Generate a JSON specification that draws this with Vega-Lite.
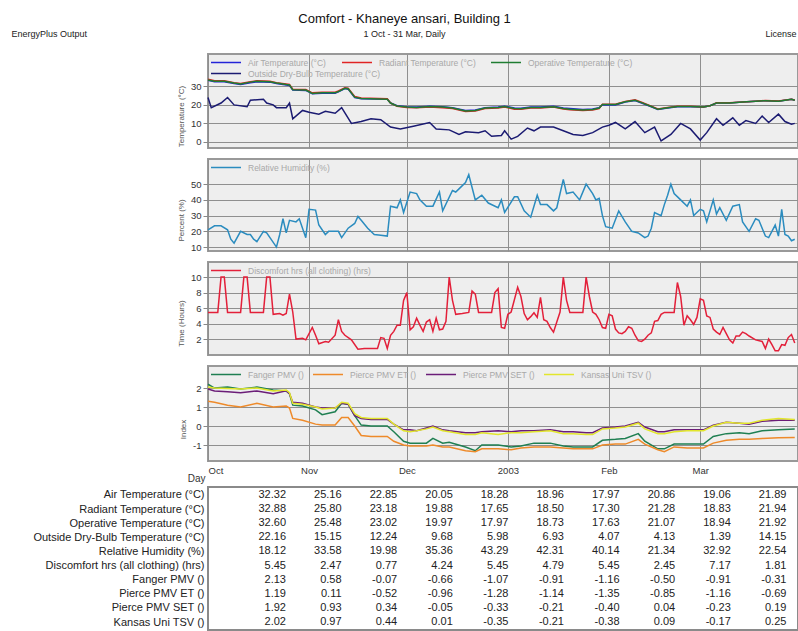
{
  "$schema": "https://vega.github.io/schema/vega-lite/v6.json",
  "padding": {"left": 10, "top": 13, "right": 0, "bottom": 0},
  "title": {"text": "Comfort - Khaneye ansari, Building 1", "subtitle": "1 Oct - 31 Mar, Daily", "anchor": "middle", "frame": "bounds", "fontSize": 13, "fontWeight": "normal", "color": "#111111", "subtitleFontSize": 9, "subtitleColor": "#222222", "subtitlePadding": 4, "offset": -11},
  "bounds": "flush",
  "spacing": 11,
  "resolve": {"scale": {"x": "independent", "y": "independent", "color": "independent", "stroke": "independent"}, "legend": {"color": "independent", "stroke": "independent"}},
  "datasets": {
    "temp": [
      {"d":"2002-10-01","a":33.3,"r":33.8,"o":33.5},
      {"d":"2002-10-03","a":32.5,"r":33.0,"o":32.8},
      {"d":"2002-10-06","a":32.5,"r":33.0,"o":32.8},
      {"d":"2002-10-09","a":31.5,"r":32.0,"o":31.8},
      {"d":"2002-10-11","a":31.0,"r":31.5,"o":31.3},
      {"d":"2002-10-14","a":32.0,"r":32.5,"o":32.3},
      {"d":"2002-10-16","a":32.5,"r":33.0,"o":32.8},
      {"d":"2002-10-20","a":32.3,"r":32.8,"o":32.5},
      {"d":"2002-10-22","a":31.5,"r":32.0,"o":31.8},
      {"d":"2002-10-25","a":30.8,"r":31.3,"o":31.0},
      {"d":"2002-10-26","a":30.5,"r":31.0,"o":30.8},
      {"d":"2002-10-27","a":28.0,"r":28.5,"o":28.2},
      {"d":"2002-10-31","a":27.8,"r":28.3,"o":28.0},
      {"d":"2002-11-02","a":26.0,"r":26.5,"o":26.2},
      {"d":"2002-11-05","a":26.3,"r":26.8,"o":26.5},
      {"d":"2002-11-09","a":26.3,"r":26.8,"o":26.5},
      {"d":"2002-11-10","a":27.0,"r":27.5,"o":27.2},
      {"d":"2002-11-12","a":28.8,"r":29.3,"o":29.0},
      {"d":"2002-11-13","a":28.5,"r":29.0,"o":28.7},
      {"d":"2002-11-15","a":24.0,"r":24.5,"o":24.2},
      {"d":"2002-11-17","a":23.3,"r":23.7,"o":23.5},
      {"d":"2002-11-25","a":23.0,"r":23.3,"o":23.1},
      {"d":"2002-11-26","a":21.0,"r":21.0,"o":21.0},
      {"d":"2002-11-28","a":19.5,"r":19.2,"o":19.4},
      {"d":"2002-12-01","a":19.0,"r":18.6,"o":18.8},
      {"d":"2002-12-04","a":18.8,"r":18.4,"o":18.6},
      {"d":"2002-12-08","a":19.3,"r":18.9,"o":19.1},
      {"d":"2002-12-12","a":19.0,"r":18.5,"o":18.8},
      {"d":"2002-12-15","a":18.5,"r":18.0,"o":18.3},
      {"d":"2002-12-19","a":17.0,"r":16.4,"o":16.7},
      {"d":"2002-12-22","a":17.3,"r":16.7,"o":17.0},
      {"d":"2002-12-25","a":18.5,"r":18.0,"o":18.3},
      {"d":"2002-12-29","a":18.8,"r":18.3,"o":18.6},
      {"d":"2002-12-31","a":19.3,"r":18.8,"o":19.1},
      {"d":"2003-01-03","a":18.3,"r":17.7,"o":18.0},
      {"d":"2003-01-05","a":18.2,"r":17.6,"o":17.9},
      {"d":"2003-01-08","a":18.8,"r":18.3,"o":18.6},
      {"d":"2003-01-11","a":18.8,"r":18.3,"o":18.6},
      {"d":"2003-01-15","a":19.2,"r":18.8,"o":19.0},
      {"d":"2003-01-18","a":18.3,"r":17.8,"o":18.1},
      {"d":"2003-01-20","a":18.0,"r":17.4,"o":17.7},
      {"d":"2003-01-24","a":17.5,"r":16.9,"o":17.2},
      {"d":"2003-01-27","a":17.8,"r":17.2,"o":17.5},
      {"d":"2003-01-29","a":18.5,"r":18.0,"o":18.3},
      {"d":"2003-01-30","a":20.0,"r":20.4,"o":20.2},
      {"d":"2003-02-03","a":20.0,"r":20.4,"o":20.2},
      {"d":"2003-02-06","a":21.5,"r":21.9,"o":21.7},
      {"d":"2003-02-09","a":22.3,"r":22.7,"o":22.5},
      {"d":"2003-02-11","a":21.0,"r":21.4,"o":21.2},
      {"d":"2003-02-14","a":19.0,"r":19.3,"o":19.1},
      {"d":"2003-02-16","a":17.5,"r":17.8,"o":17.6},
      {"d":"2003-02-19","a":18.3,"r":18.6,"o":18.4},
      {"d":"2003-02-22","a":19.0,"r":19.3,"o":19.1},
      {"d":"2003-02-26","a":19.0,"r":19.2,"o":19.1},
      {"d":"2003-03-02","a":18.8,"r":18.8,"o":18.8},
      {"d":"2003-03-04","a":19.5,"r":19.5,"o":19.5},
      {"d":"2003-03-06","a":21.0,"r":21.1,"o":21.0},
      {"d":"2003-03-10","a":21.0,"r":21.1,"o":21.0},
      {"d":"2003-03-14","a":21.5,"r":21.6,"o":21.5},
      {"d":"2003-03-18","a":22.0,"r":22.0,"o":22.0},
      {"d":"2003-03-21","a":22.3,"r":22.4,"o":22.3},
      {"d":"2003-03-25","a":22.0,"r":22.1,"o":22.0},
      {"d":"2003-03-29","a":23.0,"r":23.0,"o":23.0},
      {"d":"2003-03-30","a":22.5,"r":22.6,"o":22.5}
    ],
    "outside": [
      {"d":"2002-10-01","v":24},{"d":"2002-10-02","v":18.5},{"d":"2002-10-05","v":21},{"d":"2002-10-07","v":24},
      {"d":"2002-10-09","v":20},{"d":"2002-10-13","v":19},{"d":"2002-10-14","v":22.5},{"d":"2002-10-18","v":23},
      {"d":"2002-10-19","v":21},{"d":"2002-10-21","v":20},{"d":"2002-10-22","v":18.5},{"d":"2002-10-25","v":18.5},
      {"d":"2002-10-26","v":21},{"d":"2002-10-27","v":12.5},{"d":"2002-10-30","v":17},{"d":"2002-11-01","v":16},
      {"d":"2002-11-04","v":15},{"d":"2002-11-06","v":16.5},{"d":"2002-11-09","v":15.5},{"d":"2002-11-11","v":18.5},
      {"d":"2002-11-14","v":10},{"d":"2002-11-17","v":11},{"d":"2002-11-20","v":12.5},{"d":"2002-11-23","v":12},
      {"d":"2002-11-26","v":8},{"d":"2002-11-29","v":7},{"d":"2002-12-03","v":8.5},{"d":"2002-12-08","v":10.5},
      {"d":"2002-12-10","v":7},{"d":"2002-12-14","v":6.5},{"d":"2002-12-17","v":4},{"d":"2002-12-19","v":5.5},
      {"d":"2002-12-23","v":5},{"d":"2002-12-25","v":6},{"d":"2002-12-27","v":3},{"d":"2002-12-30","v":3.5},
      {"d":"2002-12-31","v":6},{"d":"2003-01-02","v":1.5},{"d":"2003-01-04","v":3},{"d":"2003-01-07","v":7.5},
      {"d":"2003-01-09","v":6},{"d":"2003-01-11","v":8},{"d":"2003-01-15","v":8},{"d":"2003-01-18","v":6},
      {"d":"2003-01-21","v":4},{"d":"2003-01-24","v":3.5},{"d":"2003-01-27","v":5},{"d":"2003-01-30","v":8},
      {"d":"2003-02-01","v":9},{"d":"2003-02-03","v":10.5},{"d":"2003-02-06","v":7},{"d":"2003-02-09","v":11},
      {"d":"2003-02-12","v":5},{"d":"2003-02-15","v":8},{"d":"2003-02-17","v":0.5},{"d":"2003-02-20","v":4},
      {"d":"2003-02-23","v":10},{"d":"2003-02-26","v":7},{"d":"2003-03-01","v":1},{"d":"2003-03-03","v":5},
      {"d":"2003-03-06","v":12.5},{"d":"2003-03-08","v":9},{"d":"2003-03-11","v":13},{"d":"2003-03-13","v":9},
      {"d":"2003-03-15","v":11.5},{"d":"2003-03-18","v":10},{"d":"2003-03-20","v":14},{"d":"2003-03-22","v":10.5},
      {"d":"2003-03-25","v":15},{"d":"2003-03-27","v":11},{"d":"2003-03-29","v":9.5},{"d":"2003-03-30","v":10}
    ],
    "rh": [
      {"d":"2002-10-01","v":21},{"d":"2002-10-03","v":23.5},{"d":"2002-10-05","v":23.5},{"d":"2002-10-07","v":21},
      {"d":"2002-10-08","v":15},{"d":"2002-10-09","v":12.5},{"d":"2002-10-11","v":20},{"d":"2002-10-13","v":18},
      {"d":"2002-10-14","v":18},{"d":"2002-10-15","v":15},{"d":"2002-10-16","v":13.5},{"d":"2002-10-18","v":20},
      {"d":"2002-10-19","v":19},{"d":"2002-10-22","v":10},{"d":"2002-10-23","v":18},{"d":"2002-10-24","v":28},
      {"d":"2002-10-25","v":19},{"d":"2002-10-26","v":27},{"d":"2002-10-28","v":26},{"d":"2002-10-29","v":28},
      {"d":"2002-10-31","v":16},{"d":"2002-11-01","v":34},{"d":"2002-11-03","v":33.5},{"d":"2002-11-04","v":24},
      {"d":"2002-11-06","v":18},{"d":"2002-11-07","v":20},{"d":"2002-11-10","v":20},{"d":"2002-11-11","v":16},
      {"d":"2002-11-13","v":22},{"d":"2002-11-15","v":25},{"d":"2002-11-16","v":29.5},{"d":"2002-11-17","v":27},
      {"d":"2002-11-19","v":22},{"d":"2002-11-21","v":18},{"d":"2002-11-23","v":17.5},{"d":"2002-11-25","v":17},
      {"d":"2002-11-26","v":36},{"d":"2002-11-28","v":35},{"d":"2002-11-29","v":40},{"d":"2002-11-30","v":32},
      {"d":"2002-12-02","v":45},{"d":"2002-12-04","v":44},{"d":"2002-12-05","v":40},{"d":"2002-12-07","v":36},
      {"d":"2002-12-09","v":36},{"d":"2002-12-11","v":45},{"d":"2002-12-12","v":33},{"d":"2002-12-15","v":46},
      {"d":"2002-12-16","v":45},{"d":"2002-12-17","v":47},{"d":"2002-12-19","v":51},{"d":"2002-12-20","v":56},
      {"d":"2002-12-22","v":40},{"d":"2002-12-24","v":43},{"d":"2002-12-26","v":38},{"d":"2002-12-29","v":35},
      {"d":"2002-12-30","v":40},{"d":"2002-12-31","v":32},{"d":"2003-01-03","v":42},{"d":"2003-01-04","v":42},
      {"d":"2003-01-06","v":33},{"d":"2003-01-08","v":29},{"d":"2003-01-10","v":43},{"d":"2003-01-11","v":37},
      {"d":"2003-01-13","v":37},{"d":"2003-01-15","v":33},{"d":"2003-01-16","v":35},{"d":"2003-01-18","v":53},
      {"d":"2003-01-19","v":44},{"d":"2003-01-21","v":45},{"d":"2003-01-23","v":40},{"d":"2003-01-25","v":50},
      {"d":"2003-01-27","v":44},{"d":"2003-01-28","v":40},{"d":"2003-01-29","v":41},{"d":"2003-01-30","v":30},
      {"d":"2003-01-31","v":23},{"d":"2003-02-02","v":22},{"d":"2003-02-04","v":33},{"d":"2003-02-06","v":26},
      {"d":"2003-02-08","v":20},{"d":"2003-02-10","v":19},{"d":"2003-02-12","v":16},{"d":"2003-02-13","v":17},
      {"d":"2003-02-14","v":22},{"d":"2003-02-15","v":32},{"d":"2003-02-17","v":30},{"d":"2003-02-18","v":37},
      {"d":"2003-02-19","v":43},{"d":"2003-02-20","v":50},{"d":"2003-02-21","v":44},{"d":"2003-02-23","v":40},
      {"d":"2003-02-25","v":36},{"d":"2003-02-26","v":40},{"d":"2003-02-27","v":30},{"d":"2003-03-01","v":34},
      {"d":"2003-03-02","v":33},{"d":"2003-03-03","v":26},{"d":"2003-03-05","v":40},{"d":"2003-03-06","v":31},
      {"d":"2003-03-07","v":35},{"d":"2003-03-09","v":27},{"d":"2003-03-11","v":36},{"d":"2003-03-13","v":37},
      {"d":"2003-03-14","v":26},{"d":"2003-03-16","v":20},{"d":"2003-03-18","v":28},{"d":"2003-03-19","v":27},
      {"d":"2003-03-21","v":17},{"d":"2003-03-22","v":16},{"d":"2003-03-23","v":20},{"d":"2003-03-24","v":24},
      {"d":"2003-03-25","v":17},{"d":"2003-03-26","v":34},{"d":"2003-03-27","v":18},{"d":"2003-03-28","v":17},
      {"d":"2003-03-29","v":14},{"d":"2003-03-30","v":15}
    ],
    "disc": [
      {"d":"2002-10-01","v":5.45},{"d":"2002-10-04","v":5.45},{"d":"2002-10-05","v":10},{"d":"2002-10-06","v":10},
      {"d":"2002-10-07","v":5.45},{"d":"2002-10-11","v":5.45},{"d":"2002-10-12","v":10},{"d":"2002-10-13","v":10},
      {"d":"2002-10-14","v":5.45},{"d":"2002-10-18","v":5.45},{"d":"2002-10-19","v":10},{"d":"2002-10-20","v":10},
      {"d":"2002-10-21","v":5.2},{"d":"2002-10-23","v":5.3},{"d":"2002-10-24","v":5.1},{"d":"2002-10-25","v":5.3},
      {"d":"2002-10-26","v":7.8},{"d":"2002-10-27","v":5.5},{"d":"2002-10-28","v":2},{"d":"2002-10-30","v":2.1},
      {"d":"2002-10-31","v":1.9},{"d":"2002-11-02","v":3.5},{"d":"2002-11-03","v":2.5},{"d":"2002-11-04","v":1.4},
      {"d":"2002-11-06","v":1.7},{"d":"2002-11-07","v":1.6},{"d":"2002-11-09","v":2.5},{"d":"2002-11-10","v":4.5},
      {"d":"2002-11-11","v":3},{"d":"2002-11-12","v":2.5},{"d":"2002-11-14","v":1.9},{"d":"2002-11-16","v":0.7},
      {"d":"2002-11-18","v":0.8},{"d":"2002-11-20","v":0.8},{"d":"2002-11-22","v":0.8},{"d":"2002-11-23","v":2.2},
      {"d":"2002-11-24","v":2.1},{"d":"2002-11-25","v":0.8},{"d":"2002-11-26","v":2.5},{"d":"2002-11-27","v":3},
      {"d":"2002-11-28","v":3.8},{"d":"2002-11-29","v":3.8},{"d":"2002-11-30","v":7},{"d":"2002-12-01","v":8},
      {"d":"2002-12-02","v":3.2},{"d":"2002-12-03","v":3.6},{"d":"2002-12-04","v":4.7},{"d":"2002-12-05","v":3.8},
      {"d":"2002-12-06","v":3},{"d":"2002-12-07","v":4.2},{"d":"2002-12-08","v":4.5},{"d":"2002-12-09","v":3},
      {"d":"2002-12-10","v":4.7},{"d":"2002-12-11","v":3.2},{"d":"2002-12-12","v":3.3},{"d":"2002-12-13","v":4.3},
      {"d":"2002-12-14","v":10},{"d":"2002-12-15","v":7},{"d":"2002-12-16","v":5.2},{"d":"2002-12-18","v":5.3},
      {"d":"2002-12-20","v":5.45},{"d":"2002-12-21","v":8.2},{"d":"2002-12-22","v":7.8},{"d":"2002-12-23","v":5.45},
      {"d":"2002-12-27","v":5.45},{"d":"2002-12-28","v":8},{"d":"2002-12-29","v":8.5},{"d":"2002-12-30","v":3.5},
      {"d":"2002-12-31","v":3.4},{"d":"2003-01-01","v":5.2},{"d":"2003-01-02","v":5.5},{"d":"2003-01-04","v":8.7},
      {"d":"2003-01-05","v":7.5},{"d":"2003-01-06","v":5.3},{"d":"2003-01-07","v":4.5},{"d":"2003-01-08","v":4.9},
      {"d":"2003-01-09","v":5.4},{"d":"2003-01-10","v":4.8},{"d":"2003-01-11","v":7.4},{"d":"2003-01-12","v":4.5},
      {"d":"2003-01-13","v":4.3},{"d":"2003-01-14","v":3.5},{"d":"2003-01-15","v":2.9},{"d":"2003-01-16","v":4.2},
      {"d":"2003-01-17","v":5.5},{"d":"2003-01-18","v":10},{"d":"2003-01-19","v":7},{"d":"2003-01-20","v":5.45},
      {"d":"2003-01-24","v":5.45},{"d":"2003-01-25","v":10},{"d":"2003-01-26","v":7.5},{"d":"2003-01-27","v":5.5},
      {"d":"2003-01-28","v":5.2},{"d":"2003-01-29","v":4.5},{"d":"2003-01-30","v":3.5},{"d":"2003-01-31","v":3.4},
      {"d":"2003-02-01","v":5.2},{"d":"2003-02-02","v":5},{"d":"2003-02-03","v":3.3},{"d":"2003-02-04","v":2.8},
      {"d":"2003-02-05","v":2.7},{"d":"2003-02-06","v":3},{"d":"2003-02-07","v":3.6},{"d":"2003-02-08","v":3.4},
      {"d":"2003-02-09","v":2.5},{"d":"2003-02-10","v":1.8},{"d":"2003-02-11","v":1.7},{"d":"2003-02-12","v":2},
      {"d":"2003-02-13","v":2.5},{"d":"2003-02-14","v":2.8},{"d":"2003-02-15","v":4.3},{"d":"2003-02-16","v":4.4},
      {"d":"2003-02-17","v":5.2},{"d":"2003-02-18","v":5.45},{"d":"2003-02-21","v":5.45},{"d":"2003-02-22","v":9.3},
      {"d":"2003-02-23","v":7.5},{"d":"2003-02-24","v":3.8},{"d":"2003-02-25","v":5},{"d":"2003-02-26","v":4.5},
      {"d":"2003-02-27","v":3.9},{"d":"2003-02-28","v":4.8},{"d":"2003-03-01","v":7.2},{"d":"2003-03-02","v":7},
      {"d":"2003-03-03","v":5},{"d":"2003-03-04","v":4.8},{"d":"2003-03-05","v":3.3},{"d":"2003-03-06","v":2.9},
      {"d":"2003-03-07","v":2.6},{"d":"2003-03-08","v":3.5},{"d":"2003-03-09","v":2.7},{"d":"2003-03-10","v":1.9},
      {"d":"2003-03-11","v":1.5},{"d":"2003-03-12","v":2.4},{"d":"2003-03-13","v":2.4},{"d":"2003-03-14","v":2.9},
      {"d":"2003-03-15","v":2.7},{"d":"2003-03-16","v":2.4},{"d":"2003-03-18","v":1.9},{"d":"2003-03-20","v":1.7},
      {"d":"2003-03-21","v":0.8},{"d":"2003-03-22","v":2},{"d":"2003-03-23","v":1.3},{"d":"2003-03-24","v":0.5},
      {"d":"2003-03-25","v":0.5},{"d":"2003-03-26","v":1.3},{"d":"2003-03-27","v":1.2},{"d":"2003-03-28","v":2.2},
      {"d":"2003-03-29","v":2.6},{"d":"2003-03-30","v":1.5}
    ],
    "pmv": [
      {"d":"2002-10-01","f":2.2,"e":1.3,"s":1.95,"k":2.05},
      {"d":"2002-10-03","f":2.0,"e":1.25,"s":1.85,"k":2.0},
      {"d":"2002-10-07","f":2.05,"e":1.1,"s":1.8,"k":1.97},
      {"d":"2002-10-11","f":1.95,"e":1.0,"s":1.75,"k":1.95},
      {"d":"2002-10-16","f":2.05,"e":1.2,"s":1.85,"k":2.0},
      {"d":"2002-10-21","f":1.9,"e":1.0,"s":1.7,"k":1.85},
      {"d":"2002-10-25","f":1.85,"e":1.05,"s":1.85,"k":1.9},
      {"d":"2002-10-26","f":1.7,"e":0.95,"s":1.7,"k":1.75},
      {"d":"2002-10-27","f":1.1,"e":0.4,"s":1.25,"k":1.2},
      {"d":"2002-10-30","f":1.05,"e":0.3,"s":1.2,"k":1.15},
      {"d":"2002-11-03","f":0.85,"e":0.1,"s":1.0,"k":1.0},
      {"d":"2002-11-05","f":0.6,"e":0.05,"s":0.95,"k":0.9},
      {"d":"2002-11-09","f":0.75,"e":0.05,"s":0.95,"k":0.95},
      {"d":"2002-11-11","f":1.2,"e":0.45,"s":1.2,"k":1.25},
      {"d":"2002-11-13","f":1.15,"e":0.45,"s":1.15,"k":1.2},
      {"d":"2002-11-15","f":0.55,"e":0.0,"s":0.55,"k":0.65},
      {"d":"2002-11-17","f":0.05,"e":-0.5,"s":0.4,"k":0.45},
      {"d":"2002-11-20","f":0.0,"e":-0.55,"s":0.35,"k":0.4},
      {"d":"2002-11-25","f":0.0,"e":-0.55,"s":0.35,"k":0.4},
      {"d":"2002-11-27","f":-0.3,"e":-0.8,"s":0.1,"k":0.1},
      {"d":"2002-11-30","f":-0.8,"e":-1.0,"s":-0.2,"k":-0.25},
      {"d":"2002-12-02","f":-0.9,"e":-1.05,"s":-0.2,"k":-0.3},
      {"d":"2002-12-04","f":-0.9,"e":-1.05,"s":-0.25,"k":-0.25},
      {"d":"2002-12-07","f":-0.9,"e":-1.05,"s":-0.1,"k":-0.15},
      {"d":"2002-12-09","f":-0.65,"e":-1.0,"s":0.0,"k":-0.05},
      {"d":"2002-12-12","f":-0.9,"e":-1.1,"s":-0.2,"k":-0.25},
      {"d":"2002-12-14","f":-0.85,"e":-1.1,"s":-0.25,"k":-0.3},
      {"d":"2002-12-19","f":-1.1,"e":-1.3,"s":-0.35,"k":-0.45},
      {"d":"2002-12-22","f":-1.3,"e":-1.35,"s":-0.35,"k":-0.45},
      {"d":"2002-12-24","f":-1.0,"e":-1.2,"s":-0.3,"k":-0.35},
      {"d":"2002-12-29","f":-1.0,"e":-1.2,"s":-0.25,"k":-0.45},
      {"d":"2003-01-02","f":-1.1,"e":-1.25,"s":-0.3,"k":-0.35},
      {"d":"2003-01-05","f":-1.05,"e":-1.15,"s":-0.25,"k":-0.35},
      {"d":"2003-01-09","f":-0.9,"e":-1.1,"s":-0.25,"k":-0.3},
      {"d":"2003-01-14","f":-0.9,"e":-1.1,"s":-0.2,"k":-0.25},
      {"d":"2003-01-18","f":-1.05,"e":-1.15,"s":-0.3,"k":-0.4},
      {"d":"2003-01-21","f":-1.1,"e":-1.2,"s":-0.3,"k":-0.4},
      {"d":"2003-01-25","f":-1.1,"e":-1.2,"s":-0.35,"k":-0.45},
      {"d":"2003-01-27","f":-1.1,"e":-1.2,"s":-0.35,"k":-0.45},
      {"d":"2003-01-30","f":-0.75,"e":-1.0,"s":-0.1,"k":-0.15},
      {"d":"2003-02-03","f":-0.7,"e":-0.95,"s":-0.05,"k":-0.1},
      {"d":"2003-02-06","f":-0.65,"e":-0.95,"s":0.0,"k":-0.05},
      {"d":"2003-02-10","f":-0.4,"e":-0.7,"s":0.2,"k":0.15},
      {"d":"2003-02-12","f":-0.8,"e":-0.95,"s":-0.05,"k":-0.15},
      {"d":"2003-02-16","f":-1.2,"e":-1.25,"s":-0.3,"k":-0.4},
      {"d":"2003-02-18","f":-1.2,"e":-1.35,"s":-0.3,"k":-0.4},
      {"d":"2003-02-21","f":-0.95,"e":-1.1,"s":-0.2,"k":-0.3},
      {"d":"2003-02-25","f":-0.95,"e":-1.15,"s":-0.2,"k":-0.25},
      {"d":"2003-03-02","f":-0.95,"e":-1.15,"s":-0.2,"k":-0.25},
      {"d":"2003-03-05","f":-0.55,"e":-0.9,"s":0.05,"k":0.0},
      {"d":"2003-03-09","f":-0.4,"e":-0.75,"s":0.2,"k":0.2},
      {"d":"2003-03-13","f":-0.35,"e":-0.7,"s":0.15,"k":0.15},
      {"d":"2003-03-16","f":-0.4,"e":-0.7,"s":0.1,"k":0.15},
      {"d":"2003-03-20","f":-0.25,"e":-0.65,"s":0.25,"k":0.3},
      {"d":"2003-03-25","f":-0.2,"e":-0.62,"s":0.3,"k":0.4},
      {"d":"2003-03-30","f":-0.15,"e":-0.6,"s":0.3,"k":0.35}
    ],
    "table": [
      {"r":"Air Temperature (°C)","c":[1,2,3,4,5,6,7,8,9,10],"v":["32.32","25.16","22.85","20.05","18.28","18.96","17.97","20.86","19.06","21.89"]},
      {"r":"Radiant Temperature (°C)","c":[1,2,3,4,5,6,7,8,9,10],"v":["32.88","25.80","23.18","19.88","17.65","18.50","17.30","21.28","18.83","21.94"]},
      {"r":"Operative Temperature (°C)","c":[1,2,3,4,5,6,7,8,9,10],"v":["32.60","25.48","23.02","19.97","17.97","18.73","17.63","21.07","18.94","21.92"]},
      {"r":"Outside Dry-Bulb Temperature (°C)","c":[1,2,3,4,5,6,7,8,9,10],"v":["22.16","15.15","12.24","9.68","5.98","6.93","4.07","4.13","1.39","14.15"]},
      {"r":"Relative Humidity (%)","c":[1,2,3,4,5,6,7,8,9,10],"v":["18.12","33.58","19.98","35.36","43.29","42.31","40.14","21.34","32.92","22.54"]},
      {"r":"Discomfort hrs (all clothing) (hrs)","c":[1,2,3,4,5,6,7,8,9,10],"v":["5.45","2.47","0.77","4.24","5.45","4.79","5.45","2.45","7.17","1.81"]},
      {"r":"Fanger PMV ()","c":[1,2,3,4,5,6,7,8,9,10],"v":["2.13","0.58","-0.07","-0.66","-1.07","-0.91","-1.16","-0.50","-0.91","-0.31"]},
      {"r":"Pierce PMV ET ()","c":[1,2,3,4,5,6,7,8,9,10],"v":["1.19","0.11","-0.52","-0.96","-1.28","-1.14","-1.35","-0.85","-1.16","-0.69"]},
      {"r":"Pierce PMV SET ()","c":[1,2,3,4,5,6,7,8,9,10],"v":["1.92","0.93","0.34","-0.05","-0.33","-0.21","-0.40","0.04","-0.23","0.19"]},
      {"r":"Kansas Uni TSV ()","c":[1,2,3,4,5,6,7,8,9,10],"v":["2.02","0.97","0.44","0.01","-0.35","-0.21","-0.38","0.09","-0.17","0.25"]}
    ]
  },
  "vconcat": [
    {
      "width": 590, "height": 94,
      "encoding": {
        "x": {"field": "d", "type": "temporal", "scale": {"type": "utc", "domain": [{"year":2002,"month":10,"date":1,"utc":true},{"year":2003,"month":3,"date":31,"utc":true}]},
              "axis": {"orient": "top", "values": [{"year":2002,"month":10,"date":1,"utc":true},{"year":2002,"month":11,"date":1,"utc":true},{"year":2002,"month":12,"date":1,"utc":true},{"year":2003,"month":1,"date":1,"utc":true},{"year":2003,"month":2,"date":1,"utc":true},{"year":2003,"month":3,"date":1,"utc":true}], "grid": true, "labels": false, "ticks": false,
                       "title": "License", "titleX": 557, "titleY": -21, "titleAlign": "left", "titleBaseline": "middle", "titleAngle": 0, "titleFontSize": 9, "titleColor": "#222222"}},
        "y": {"field": "v", "type": "quantitative", "scale": {"domain": [-3.3, 47.5]}, "axis": {"values": [0,10,20,30], "title": "Temperature (°C)", "titleY": 62, "labelExpr": "'' + datum.value"}}
      },
      "layer": [
        {"data": {"name": "temp"}, "transform": [{"fold": ["a","r","o"], "as": ["series","v"]}],
         "mark": {"type": "line"},
         "encoding": {"color": {"field": "series", "type": "nominal",
           "scale": {"domain": ["a","r","o"], "range": ["#2424d8","#e02424","#1f7d32"]},
           "legend": {"title": null, "labelExpr": "datum.label == 'a' ? 'Air Temperature (°C)' : datum.label == 'r' ? 'Radiant Temperature (°C)' : 'Operative Temperature (°C)'"}}}},
        {"data": {"name": "outside"}, "mark": {"type": "line"},
         "encoding": {"stroke": {"datum": "Outside Dry-Bulb Temperature (°C)", "type": "nominal", "scale": {"range": ["#1b1b72"]}, "legend": {"title": null, "orient": "none", "legendX": 2, "legendY": 13}}}}
      ]
    },
    {
      "width": 590, "height": 92,
      "data": {"name": "rh"},
      "mark": {"type": "line"},
      "encoding": {
        "x": {"field": "d", "type": "temporal", "scale": {"type": "utc", "domain": [{"year":2002,"month":10,"date":1,"utc":true},{"year":2003,"month":3,"date":31,"utc":true}]},
              "axis": {"orient": "top", "values": [{"year":2002,"month":10,"date":1,"utc":true},{"year":2002,"month":11,"date":1,"utc":true},{"year":2002,"month":12,"date":1,"utc":true},{"year":2003,"month":1,"date":1,"utc":true},{"year":2003,"month":2,"date":1,"utc":true},{"year":2003,"month":3,"date":1,"utc":true}], "grid": true, "labels": false, "ticks": false,
                       "title": "EnergyPlus Output", "titleX": -197, "titleY": -126, "titleAlign": "left", "titleBaseline": "middle", "titleAngle": 0, "titleFontSize": 9, "titleColor": "#222222"}},
        "y": {"field": "v", "type": "quantitative", "scale": {"domain": [7.5, 66]}, "axis": {"values": [10,20,30,40,50], "title": "Percent (%)", "titleY": 61, "labelExpr": "'' + datum.value"}},
        "color": {"datum": "Relative Humidity (%)", "scale": {"range": ["#2b8cbf"]}, "legend": {"title": null}}
      }
    },
    {
      "width": 590, "height": 93,
      "data": {"name": "disc"},
      "mark": {"type": "line"},
      "encoding": {
        "x": {"field": "d", "type": "temporal", "scale": {"type": "utc", "domain": [{"year":2002,"month":10,"date":1,"utc":true},{"year":2003,"month":3,"date":31,"utc":true}]},
              "axis": {"values": [{"year":2002,"month":10,"date":1,"utc":true},{"year":2002,"month":11,"date":1,"utc":true},{"year":2002,"month":12,"date":1,"utc":true},{"year":2003,"month":1,"date":1,"utc":true},{"year":2003,"month":2,"date":1,"utc":true},{"year":2003,"month":3,"date":1,"utc":true}], "grid": true, "labels": false, "ticks": false, "title": null}},
        "y": {"field": "v", "type": "quantitative", "scale": {"domain": [-0.05, 11.95]}, "axis": {"values": [2,4,6,8,10], "title": "Time (Hours)", "titleY": 61, "labelExpr": "'' + datum.value"}},
        "color": {"datum": "Discomfort hrs (all clothing) (hrs)", "scale": {"range": ["#e3203a"]}, "legend": {"title": null}}
      }
    },
    {
      "width": 590, "height": 95,
      "data": {"name": "pmv"},
      "transform": [{"fold": ["f","e","s","k"], "as": ["series","v"]}],
      "mark": {"type": "line"},
      "encoding": {
        "x": {"field": "d", "type": "temporal", "scale": {"type": "utc", "domain": [{"year":2002,"month":10,"date":1,"utc":true},{"year":2003,"month":3,"date":31,"utc":true}]},
              "axis": {"values": [{"year":2002,"month":10,"date":1,"utc":true},{"year":2002,"month":11,"date":1,"utc":true},{"year":2002,"month":12,"date":1,"utc":true},{"year":2003,"month":1,"date":1,"utc":true},{"year":2003,"month":2,"date":1,"utc":true},{"year":2003,"month":3,"date":1,"utc":true}],
                       "grid": true, "ticks": false, "tickSize": 0, "labels": true, "labelExpr": "utcFormat(datum.value, utcmonth(datum.value) == 0 ? '%Y' : '%b')",
                       "labelFontSize": 9.5, "labelPadding": 4, "labelFlush": true, "title": "Day", "titleX": -3, "titleY": 17, "titleAlign": "right", "titleBaseline": "middle", "titleFontSize": 10, "titleColor": "#333333"}},
        "y": {"field": "v", "type": "quantitative", "scale": {"domain": [-1.84, 3.16]}, "axis": {"values": [-1,0,1,2], "title": "Index", "titleY": 63, "labelExpr": "'' + datum.value"}},
        "color": {"field": "series", "type": "nominal", "scale": {"domain": ["f","e","s","k"], "range": ["#1f7f52","#ee8a2a","#6b1d78","#e2e62c"]},
          "legend": {"title": null, "columnPadding": 6, "labelExpr": "datum.label == 'f' ? 'Fanger PMV ()' : datum.label == 'e' ? 'Pierce PMV ET ()' : datum.label == 's' ? 'Pierce PMV SET ()' : 'Kansas Uni TSV ()'"}}
      }
    },
    {
      "width": 590, "height": 4,
      "view": {"stroke": null, "fill": null},
      "data": {"values": [{}]},
      "mark": {"type": "text"},
      "encoding": {"text": {"value": ""}}
    },
    {
      "width": 590, "height": 143,
      "view": {"fill": "#ffffff", "stroke": "#8a8a8a", "strokeWidth": 2},
      "data": {"name": "table"},
      "transform": [{"flatten": ["c","v"]}],
      "mark": {"type": "text", "align": "right", "baseline": "middle", "fontSize": 11, "color": "#222222"},
      "encoding": {
        "x": {"field": "c", "type": "quantitative", "scale": {"domain": [-0.403, 10.209]}, "axis": null},
        "y": {"field": "r", "type": "nominal", "sort": null, "scale": {"type": "point", "padding": 0.56},
              "axis": {"title": null, "ticks": false, "domain": false, "grid": false, "labelFontSize": 11, "labelColor": "#222222", "labelPadding": 4, "labelLimit": 400, "minExtent": 197}},
        "text": {"field": "v"}
      }
    }
  ],
  "config": {
    "font": "Liberation Sans",
    "view": {"fill": "#eeeeee", "stroke": "#999999", "strokeWidth": 2},
    "axis": {"domain": false, "gridColor": "#8f8f8f", "gridWidth": 1, "gridOpacity": 1, "labelColor": "#333333", "titleColor": "#555555", "titleFontWeight": "normal", "tickColor": "#888888"},
    "axisY": {"tickSize": 5, "labelFontSize": 9.5, "labelPadding": 2, "titleFontSize": 8, "titlePadding": 5},
    "line": {"strokeWidth": 1.5},
    "legend": {"orient": "top-left", "direction": "horizontal", "offset": 2, "padding": 0, "symbolType": "M-1,0H4.45", "symbolSize": 121, "symbolStrokeWidth": 4, "labelFontSize": 8.5, "labelColor": "#a8a8a8", "labelOffset": 25, "columnPadding": 12, "rowPadding": 0}
  }
}
